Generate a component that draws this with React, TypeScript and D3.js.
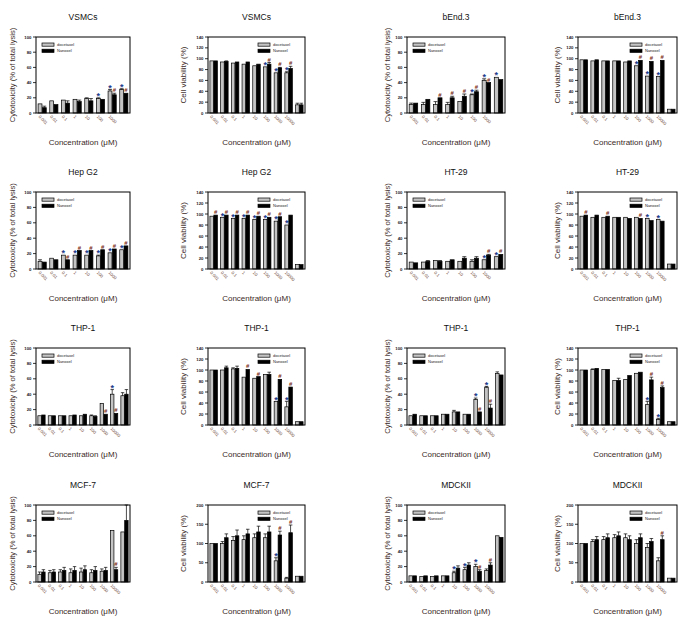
import React from "react";
import * as d3 from "d3";

const W = 686;
const H = 621;

const concLabels = ["0.001", "0.01", "0.1", "1", "10", "100", "1000", "10000"];
const seriesNames = ["docetaxel", "Nanoxel"];

// VSMCs cytotoxicity
const vsmcCytoDoc = [12, 16, 17, 18, 19, 19, 29, 31];
const vsmcCytoDocErr = [0, 0, 0, 0, 1, 1, 2, 1];
const vsmcCytoNan = [7, 11, 13, 15, 16, 18, 24, 26];
const vsmcCytoNanErr = [2, 0, 3, 2, 3, 0, 2, 0];
const vsmcCytoDocMark = ["", "", "", "", "", "*", "*", "*"];
const vsmcCytoNanMark = ["", "", "", "", "", "", "#", "#"];
// VSMCs viability
const vsmcViaDoc = [96, 94, 92, 90, 87, 85, 74, 74, 15];
const vsmcViaDocErr = [0, 0, 0, 0, 0, 0, 0, 2, 3];
const vsmcViaNan = [96, 95, 94, 94, 90, 90, 83, 82, 15];
const vsmcViaNanErr = [0, 1, 0, 0, 0, 3, 1, 4, 3];
const vsmcViaDocMark = ["", "", "", "", "", "*", "*", "*", ""];
const vsmcViaNanMark = ["", "", "", "", "", "#", "#", "#", ""];
// bEnd.3 cytotoxicity
const bendCytoDoc = [11, 11, 11, 11, 15, 24, 43, 47];
const bendCytoDocErr = [2, 3, 4, 3, 0, 1, 2, 0];
const bendCytoNan = [13, 18, 20, 20, 22, 28, 40, 44];
const bendCytoNanErr = [0, 0, 0, 2, 3, 2, 0, 0];
const bendCytoDocMark = ["", "", "", "", "", "*", "*", "*"];
const bendCytoNanMark = ["", "", "#", "#", "#", "#", "#", ""];
// bEnd.3 viability
const bendViaDoc = [98, 96, 96, 96, 94, 87, 68, 67, 7];
const bendViaDocErr = [0, 0, 0, 0, 0, 0, 0, 0, 0];
const bendViaNan = [98, 98, 96, 96, 96, 97, 95, 97, 7];
const bendViaNanErr = [0, 0, 0, 0, 0, 0, 0, 0, 0];
const bendViaDocMark = ["", "", "", "", "", "*", "*", "*", ""];
const bendViaNanMark = ["", "", "", "", "", "#", "#", "#", ""];
// Hep G2 cytotoxicity
const hepCytoDoc = [10, 14, 18, 18, 18, 17, 21, 25];
const hepCytoDocErr = [2, 0, 0, 0, 0, 1, 0, 0];
const hepCytoNan = [9, 12, 12, 24, 24, 25, 26, 30];
const hepCytoNanErr = [0, 0, 0, 0, 0, 0, 0, 0];
const hepCytoDocMark = ["", "", "*", "*", "*", "*", "*", "*"];
const hepCytoNanMark = ["", "", "#", "#", "#", "#", "#", "#"];
// Hep G2 viability
const hepViaDoc = [96, 94, 92, 92, 90, 90, 87, 80, 8];
const hepViaDocErr = [0, 0, 0, 0, 0, 0, 0, 0, 0];
const hepViaNan = [98, 98, 98, 98, 96, 94, 95, 98, 8];
const hepViaNanErr = [0, 0, 0, 0, 0, 0, 0, 0, 0];
const hepViaDocMark = ["", "*", "*", "*", "*", "*", "*", "*", ""];
const hepViaNanMark = ["#", "#", "#", "#", "#", "#", "#", "", ""];
// HT-29 cytotoxicity
const htCytoDoc = [9, 9, 11, 10, 10, 10, 12, 16];
const htCytoDocErr = [0, 0, 0, 0, 0, 2, 0, 0];
const htCytoNan = [8, 10, 10, 12, 14, 14, 18, 19];
const htCytoNanErr = [0, 1, 1, 0, 2, 2, 1, 0];
const htCytoDocMark = ["", "", "", "", "", "", "*", "*"];
const htCytoNanMark = ["", "", "", "", "", "", "#", "#"];
// HT-29 viability
const htViaDoc = [96, 94, 94, 94, 94, 94, 92, 90, 9];
const htViaDocErr = [0, 0, 0, 0, 0, 0, 0, 0, 0];
const htViaNan = [98, 98, 96, 94, 92, 92, 88, 87, 9];
const htViaNanErr = [0, 0, 0, 0, 0, 0, 0, 0, 0];
const htViaDocMark = ["", "", "", "", "", "", "*", "*", ""];
const htViaNanMark = ["#", "", "#", "", "", "#", "", "", ""];
// THP-1 cytotoxicity (a)
const thpCytoADoc = [12, 12, 12, 12, 12, 12, 28, 40, 38];
const thpCytoADocErr = [0, 0, 0, 0, 0, 1, 0, 6, 4];
const thpCytoANan = [13, 12, 12, 13, 14, 11, 14, 15, 40];
const thpCytoANanErr = [0, 0, 0, 0, 0, 1, 0, 0, 6];
const thpCytoADocMark = ["", "", "", "", "", "", "", "*", ""];
const thpCytoANanMark = ["", "", "", "", "", "", "#", "#", ""];
// THP-1 viability (a)
const thpViaADoc = [100, 100, 102, 87, 85, 92, 43, 33, 6];
const thpViaADocErr = [0, 0, 2, 0, 0, 0, 0, 10, 0];
const thpViaANan = [100, 104, 103, 101, 88, 92, 83, 69, 6];
const thpViaANanErr = [0, 3, 4, 0, 0, 4, 0, 0, 0];
const thpViaADocMark = ["", "", "", "", "", "", "*", "*", ""];
const thpViaANanMark = ["", "", "", "#", "#", "", "#", "#", ""];
// THP-1 cytotoxicity (b)
const thpCytoBDoc = [12, 12, 12, 14, 17, 14, 33, 49, 67];
const thpCytoBDocErr = [0, 0, 0, 0, 2, 0, 2, 1, 2];
const thpCytoBNan = [14, 12, 12, 14, 17, 14, 17, 22, 65];
const thpCytoBNanErr = [0, 0, 0, 0, 0, 0, 0, 5, 0];
const thpCytoBDocMark = ["", "", "", "", "", "", "*", "*", ""];
const thpCytoBNanMark = ["", "", "", "", "", "", "#", "#", ""];
// THP-1 viability (b)
const thpViaBDoc = [100, 101, 101, 81, 83, 94, 37, 10, 6];
const thpViaBDocErr = [0, 1, 0, 0, 0, 0, 6, 2, 0];
const thpViaBNan = [100, 103, 101, 81, 90, 96, 82, 68, 6];
const thpViaBNanErr = [0, 0, 0, 4, 0, 0, 5, 3, 0];
const thpViaBDocMark = ["", "", "", "", "", "", "*", "*", ""];
const thpViaBNanMark = ["", "", "", "", "", "", "#", "#", ""];
// MCF-7 cytotoxicity
const mcfCytoDoc = [10, 12, 13, 12, 13, 12, 14, 67, 65];
const mcfCytoDocErr = [3, 3, 3, 5, 5, 4, 3, 0, 0];
const mcfCytoNan = [13, 13, 15, 15, 16, 15, 15, 16, 80];
const mcfCytoNanErr = [3, 3, 4, 5, 5, 5, 4, 3, 20];
const mcfCytoDocMark = ["", "", "", "", "", "", "", "", ""];
const mcfCytoNanMark = ["", "", "", "", "", "", "", "#", ""];
// MCF-7 viability
const mcfViaDoc = [100, 100, 108, 110, 115, 115, 55, 10, 15];
const mcfViaDocErr = [0, 5, 10, 10, 10, 10, 8, 2, 0];
const mcfViaNan = [100, 115, 120, 125, 130, 130, 122, 128, 15];
const mcfViaNanErr = [0, 10, 15, 12, 15, 15, 10, 20, 0];
const mcfViaDocMark = ["", "", "", "", "", "", "*", "", ""];
const mcfViaNanMark = ["", "", "", "", "", "", "#", "#", ""];
// MDCKII cytotoxicity
const mdcCytoDoc = [8, 7, 7, 8, 12, 16, 20, 15, 60];
const mdcCytoDocErr = [0, 0, 0, 0, 2, 3, 3, 2, 0];
const mdcCytoNan = [8, 8, 8, 8, 18, 22, 14, 22, 58];
const mdcCytoNanErr = [0, 0, 0, 0, 3, 3, 2, 3, 0];
const mdcCytoDocMark = ["", "", "", "", "*", "*", "*", "", ""];
const mdcCytoNanMark = ["", "", "", "", "", "", "#", "#", ""];
// MDCKII viability
const mdcViaDoc = [100, 105, 110, 115, 115, 100, 90, 55, 10];
const mdcViaDocErr = [0, 5, 8, 8, 10, 10, 10, 8, 0];
const mdcViaNan = [100, 110, 115, 120, 110, 115, 105, 110, 10];
const mdcViaNanErr = [0, 8, 10, 10, 10, 10, 8, 10, 0];
const mdcViaDocMark = ["", "", "", "", "", "", "", "", ""];
const mdcViaNanMark = ["", "", "", "", "", "", "", "#", ""];

const cytoTicks = [0, 20, 40, 60, 80, 100];
const viaTicks = [0, 20, 40, 60, 80, 100, 120, 140];
const via200Ticks = [0, 50, 100, 150, 200];

const colX = [
  [36, 130],
  [208, 305],
  [407, 505],
  [578, 677],
];
const rowY = [
  [37, 113],
  [192, 269],
  [348, 425],
  [505, 582],
];
const yTitleOffset = [24, 25, 20, 21];

type P = {
  title: string;
  kind: "cyto" | "via";
  col: number;
  row: number;
  ticks: number[];
  doc: number[];
  docErr: number[];
  nan: number[];
  nanErr: number[];
  docMark: string[];
  nanMark: string[];
};

const panels: P[] = [
  { title: "VSMCs", kind: "cyto", col: 0, row: 0, ticks: cytoTicks, doc: vsmcCytoDoc, docErr: vsmcCytoDocErr, nan: vsmcCytoNan, nanErr: vsmcCytoNanErr, docMark: vsmcCytoDocMark, nanMark: vsmcCytoNanMark },
  { title: "VSMCs", kind: "via", col: 1, row: 0, ticks: viaTicks, doc: vsmcViaDoc, docErr: vsmcViaDocErr, nan: vsmcViaNan, nanErr: vsmcViaNanErr, docMark: vsmcViaDocMark, nanMark: vsmcViaNanMark },
  { title: "bEnd.3", kind: "cyto", col: 2, row: 0, ticks: cytoTicks, doc: bendCytoDoc, docErr: bendCytoDocErr, nan: bendCytoNan, nanErr: bendCytoNanErr, docMark: bendCytoDocMark, nanMark: bendCytoNanMark },
  { title: "bEnd.3", kind: "via", col: 3, row: 0, ticks: viaTicks, doc: bendViaDoc, docErr: bendViaDocErr, nan: bendViaNan, nanErr: bendViaNanErr, docMark: bendViaDocMark, nanMark: bendViaNanMark },
  { title: "Hep G2", kind: "cyto", col: 0, row: 1, ticks: cytoTicks, doc: hepCytoDoc, docErr: hepCytoDocErr, nan: hepCytoNan, nanErr: hepCytoNanErr, docMark: hepCytoDocMark, nanMark: hepCytoNanMark },
  { title: "Hep G2", kind: "via", col: 1, row: 1, ticks: viaTicks, doc: hepViaDoc, docErr: hepViaDocErr, nan: hepViaNan, nanErr: hepViaNanErr, docMark: hepViaDocMark, nanMark: hepViaNanMark },
  { title: "HT-29", kind: "cyto", col: 2, row: 1, ticks: cytoTicks, doc: htCytoDoc, docErr: htCytoDocErr, nan: htCytoNan, nanErr: htCytoNanErr, docMark: htCytoDocMark, nanMark: htCytoNanMark },
  { title: "HT-29", kind: "via", col: 3, row: 1, ticks: viaTicks, doc: htViaDoc, docErr: htViaDocErr, nan: htViaNan, nanErr: htViaNanErr, docMark: htViaDocMark, nanMark: htViaNanMark },
  { title: "THP-1", kind: "cyto", col: 0, row: 2, ticks: cytoTicks, doc: thpCytoADoc, docErr: thpCytoADocErr, nan: thpCytoANan, nanErr: thpCytoANanErr, docMark: thpCytoADocMark, nanMark: thpCytoANanMark },
  { title: "THP-1", kind: "via", col: 1, row: 2, ticks: viaTicks, doc: thpViaADoc, docErr: thpViaADocErr, nan: thpViaANan, nanErr: thpViaANanErr, docMark: thpViaADocMark, nanMark: thpViaANanMark },
  { title: "THP-1", kind: "cyto", col: 2, row: 2, ticks: cytoTicks, doc: thpCytoBDoc, docErr: thpCytoBDocErr, nan: thpCytoBNan, nanErr: thpCytoBNanErr, docMark: thpCytoBDocMark, nanMark: thpCytoBNanMark },
  { title: "THP-1", kind: "via", col: 3, row: 2, ticks: viaTicks, doc: thpViaBDoc, docErr: thpViaBDocErr, nan: thpViaBNan, nanErr: thpViaBNanErr, docMark: thpViaBDocMark, nanMark: thpViaBNanMark },
  { title: "MCF-7", kind: "cyto", col: 0, row: 3, ticks: cytoTicks, doc: mcfCytoDoc, docErr: mcfCytoDocErr, nan: mcfCytoNan, nanErr: mcfCytoNanErr, docMark: mcfCytoDocMark, nanMark: mcfCytoNanMark },
  { title: "MCF-7", kind: "via", col: 1, row: 3, ticks: via200Ticks, doc: mcfViaDoc, docErr: mcfViaDocErr, nan: mcfViaNan, nanErr: mcfViaNanErr, docMark: mcfViaDocMark, nanMark: mcfViaNanMark },
  { title: "MDCKII", kind: "cyto", col: 2, row: 3, ticks: cytoTicks, doc: mdcCytoDoc, docErr: mdcCytoDocErr, nan: mdcCytoNan, nanErr: mdcCytoNanErr, docMark: mdcCytoDocMark, nanMark: mdcCytoNanMark },
  { title: "MDCKII", kind: "via", col: 3, row: 3, ticks: via200Ticks, doc: mdcViaDoc, docErr: mdcViaDocErr, nan: mdcViaNan, nanErr: mdcViaNanErr, docMark: mdcViaDocMark, nanMark: mdcViaNanMark },
];

const FONT = "'Liberation Sans', Arial, sans-serif";
const TXT = "#3a2a26";
const STAR = "#243c8c";
const HASH = "#7a2a12";
const DOC_FILL = "#c4c4c4";

function Panel({ p }: { p: P }) {
  const [x0, x1] = colX[p.col];
  const [y0, y1] = rowY[p.row];
  const n = p.doc.length;
  const x = d3.scaleBand<number>().domain(d3.range(n)).range([x0, x1]).paddingInner(0.3).paddingOuter(0.18);
  const xi = d3.scaleBand<string>().domain(["doc", "nan"]).range([0, x.bandwidth()]).paddingInner(0.1);
  const yMax = p.ticks[p.ticks.length - 1];
  const y = d3.scaleLinear().domain([0, yMax]).range([y1, y0]);
  const bw = xi.bandwidth();

  const series = [
    { key: "doc", vals: p.doc, errs: p.docErr, marks: p.docMark, fill: DOC_FILL },
    { key: "nan", vals: p.nan, errs: p.nanErr, marks: p.nanMark, fill: "#000" },
  ];

  const legendX = p.kind === "cyto" ? x0 + 6 : x1 - 47;
  const yTitle = p.kind === "cyto" ? "Cytotoxicity (% of total lysis)" : "Cell viability (%)";
  const xt = x0 - yTitleOffset[p.col];
  const ym = (y0 + y1) / 2;

  return (
    <g>
      <text x={(x0 + x1) / 2} y={y0 - 17} textAnchor="middle" fontSize={8.5} fontFamily={FONT} fill="#111">
        {p.title}
      </text>
      {series.map((s) =>
        s.vals.map((v, i) => {
          const bx = (x(i) as number) + (xi(s.key) as number);
          const top = y(v);
          const errTop = y(v + s.errs[i]);
          const markTop = Math.min(top, errTop);
          const m = s.marks[i];
          return (
            <g key={s.key + i}>
              <rect x={bx} y={top} width={bw} height={y1 - top} fill={s.fill} stroke="#000" strokeWidth={0.7} />
              {s.errs[i] > 0 && (
                <g stroke="#000" strokeWidth={0.7}>
                  <line x1={bx + bw / 2} x2={bx + bw / 2} y1={top} y2={errTop} />
                  <line x1={bx} x2={bx + bw} y1={errTop} y2={errTop} />
                </g>
              )}
              {m && (
                <text
                  x={bx + bw / 2}
                  y={m === "*" ? markTop + 1.2 : markTop - 1}
                  textAnchor="middle"
                  fontSize={m === "*" ? 9 : 6}
                  fontWeight="bold"
                  fontFamily={FONT}
                  fill={m === "*" ? STAR : HASH}
                >
                  {m}
                </text>
              )}
            </g>
          );
        })
      )}
      <rect x={x0} y={y0} width={x1 - x0} height={y1 - y0} fill="none" stroke="#000" strokeWidth={1} />
      {p.ticks.map((t) => (
        <g key={t}>
          <line x1={x0 - 3} x2={x0} y1={y(t)} y2={y(t)} stroke="#000" strokeWidth={0.8} />
          <text x={x0 - 4.5} y={y(t) + 1.5} textAnchor="end" fontSize={4.3} fontWeight="bold" fontFamily={FONT} fill="#222">
            {t}
          </text>
        </g>
      ))}
      {d3.range(n - 1).map((i) => {
        const cx = (x(i) as number) + x.bandwidth() / 2 - 4;
        const cy = y1 + 4;
        return (
          <text key={"xl" + i} x={cx} y={cy} transform={`rotate(45 ${cx} ${cy})`} fontSize={4.3} fontFamily={FONT} fill="#6a4436">
            {concLabels[i]}
          </text>
        );
      })}
      {seriesNames.map((name, k) => (
        <g key={name}>
          <rect x={legendX} y={y0 + 6 + k * 6.2} width={12} height={3.2} fill={k === 0 ? DOC_FILL : "#000"} stroke="#000" strokeWidth={0.7} />
          <text x={legendX + 15} y={y0 + 9.2 + k * 6.2} fontSize={4} fontFamily={FONT} fill="#222">
            {name}
          </text>
        </g>
      ))}
      <text
        x={xt}
        y={ym}
        transform={`rotate(-90 ${xt} ${ym})`}
        textAnchor="middle"
        dy="0.35em"
        fontSize={p.kind === "cyto" ? 7.6 : 8}
        fontFamily={FONT}
        fill={TXT}
      >
        {yTitle}
      </text>
      <text x={(x0 + x1) / 2} y={y1 + 32} textAnchor="middle" fontSize={8} fontFamily={FONT} fill={TXT}>
        Concentration (μM)
      </text>
    </g>
  );
}

export default function App() {
  return (
    <svg width={W} height={H} style={{ position: "absolute", left: 0, top: 0, background: "#fff" }}>
      <rect x={0} y={0} width={W} height={H} fill="#fff" />
      {panels.map((p, i) => (
        <Panel key={i} p={p} />
      ))}
    </svg>
  );
}
